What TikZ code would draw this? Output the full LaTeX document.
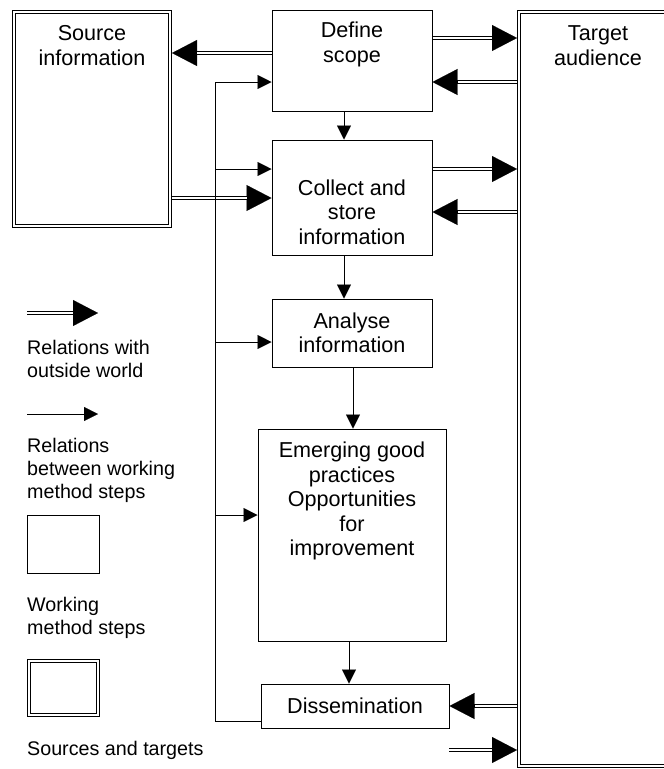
\documentclass[tikz,border=0pt]{standalone}
\usepackage{fontspec}
\setmainfont{Liberation Sans}
\usetikzlibrary{arrows.meta}
\begin{document}
\begin{tikzpicture}[x=1pt,y=-1pt,
  stepbox/.style={draw, line width=1pt, rectangle, inner sep=0pt},
  endbox/.style={draw, line width=0.9pt, double, double distance=2.2pt, rectangle, inner sep=0pt, outer sep=2pt},
  boxtext/.style={inner sep=0pt, align=center, font=\fontsize{21.6}{24.5}\selectfont},
  legtext/.style={inner sep=0pt, align=left, anchor=west, font=\fontsize{19.7}{23}\selectfont},
  ext/.style={line width=3.6pt, -{Triangle[length=25pt,width=26pt,line width=0.1pt]},
    postaction={draw=white, line width=1.6pt, shorten >=25pt, -}},
  flow/.style={line width=1pt, -{Triangle[length=14pt,width=14pt,line width=0.1pt]}},
  link/.style={line width=1pt}
]
\useasboundingbox (0,0) rectangle (664,769);

% sources and targets
\node[endbox, minimum width=156pt, minimum height=214pt] (src) at (92,119) {};
\begin{scope}
  \clip (0,0) rectangle (664,769);
  \node[endbox, minimum width=161pt, minimum height=754pt] (tgt) at (599.5,389) {};
\end{scope}
\node[boxtext] (srctext) at (92,45.5) {Source\\information};
\node[boxtext] (tgttext) at (598,45.5) {Target\\audience};

% working method steps
\node[stepbox, minimum width=160pt, minimum height=101pt] (scope) at (352,60.5) {};
\node[boxtext] (scopetext) at (352,44.5) {Define\\scope};
\node[stepbox, minimum width=160pt, minimum height=115pt] (collect) at (352,197.5) {};
\node[boxtext] (collecttext) at (352,212) {Collect and\\store\\information};
\node[stepbox, minimum width=160pt, minimum height=68pt, font=\fontsize{21.6}{24.5}\selectfont, align=center] (analyse) at (352,333) {Analyse\\information};
\node[stepbox, minimum width=188pt, minimum height=212pt] (emerging) at (352,535) {};
\node[boxtext] (emergingtext) at (352,501) {Emerging good\\practices\\Opportunities\\for\\improvement};
\node[stepbox, minimum width=188pt, minimum height=44pt, font=\fontsize{21.6}{24.5}\selectfont] (dissem) at (355,706) {Dissemination};

% relations with the outside world
\draw[ext] (scope.west |- 0,53) -- (src.east |- 0,53);
\draw[ext] (scope.east |- 0,38) -- (tgt.west |- 0,38);
\draw[ext] (tgt.west |- 0,82) -- (scope.east |- 0,82);
\draw[ext] (src.east |- 0,198) -- (collect.west |- 0,198);
\draw[ext] (collect.east |- 0,169) -- (tgt.west |- 0,169);
\draw[ext] (tgt.west |- 0,212) -- (collect.east |- 0,212);
\draw[ext] (tgt.west |- 0,706) -- (dissem.east |- 0,706);
\coordinate (release) at (449,750);
\draw[ext] (release) -- (tgt.west |- release);

% relations between working method steps
\draw[flow] (scope.south -| 344,0) -- (collect.north -| 344,0);
\draw[flow] (collect.south -| 344,0) -- (analyse.north -| 344,0);
\draw[flow] (analyse.south -| 353,0) -- (emerging.north -| 353,0);
\draw[flow] (emerging.south -| 349,0) -- (dissem.north -| 349,0);
\coordinate (loopbot) at (215,721);
\coordinate (looptop) at (215,82);
\draw[flow] (dissem.west |- loopbot) -- (loopbot) -- (looptop) -- (scope.west |- looptop);
\draw[flow] (loopbot |- 0,169) -- (collect.west |- 0,169);
\draw[flow] (loopbot |- 0,342) -- (analyse.west |- 0,342);
\draw[flow] (loopbot |- 0,515) -- (emerging.west |- 0,515);

% legend
\coordinate (extA) at (27,313);
\coordinate (extB) at (98,313);
\draw[ext] (extA) -- (extB);
\node[legtext] (legext) at (27,358.5) {Relations with\\outside world};
\coordinate (flowA) at (27,414);
\coordinate (flowB) at (98,414);
\draw[flow] (flowA) -- (flowB);
\node[legtext] (legflow) at (27,470) {Relations\\between working\\method steps};
\node[stepbox, minimum width=72pt, minimum height=58pt] (legstepbox) at (63,544) {};
\node[legtext] (legstep) at (27,618) {Working\\method steps};
\node[endbox, minimum width=69pt, minimum height=54pt] (legendbox) at (63.5,688) {};
\node[legtext] (legsrc) at (27,750) {Sources and targets};
\end{tikzpicture}
\end{document}
